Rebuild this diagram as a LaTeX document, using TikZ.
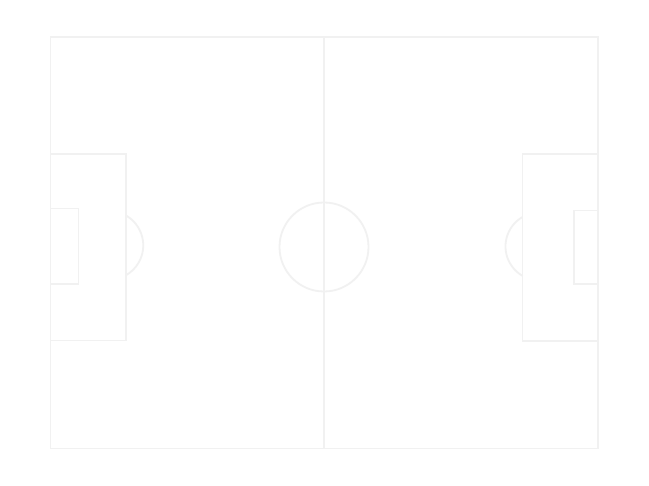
\documentclass[tikz,border=0pt]{standalone}
\definecolor{pitchline}{RGB}{241,241,241}
\begin{document}
\begin{tikzpicture}[x=1pt,y=-1pt,pitch/.style={draw=pitchline,line width=1.8pt}]
\useasboundingbox[fill=white] (0,0) rectangle (649,486);
% outer boundary and halfway line
\draw[pitch] (50.5,37) rectangle (598,448.5);
\draw[pitch] (324,37) -- (324,448.5);
% centre circle
\draw[pitch] (324,247) circle[radius=44.5];
% left penalty area, goal area, arc
\draw[pitch] (50.5,154) -- (126,154) -- (126,340.5) -- (50.5,340.5);
\draw[pitch] (50.5,208.5) -- (78.5,208.5) -- (78.5,284) -- (50.5,284);
\draw[pitch] (126,215.5) arc[start angle=-60,end angle=60,radius=34.5];
% right penalty area, goal area, arc
\draw[pitch] (598,154) -- (522.5,154) -- (522.5,341) -- (598,341);
\draw[pitch] (598,210.5) -- (574,210.5) -- (574,284) -- (598,284);
\draw[pitch] (522.5,217) arc[start angle=-120,end angle=-240,radius=34];
\end{tikzpicture}
\end{document}
